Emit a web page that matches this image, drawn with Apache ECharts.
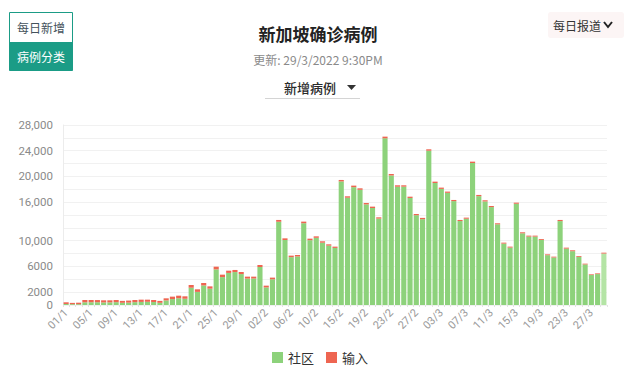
<!DOCTYPE html>
<html>
<head>
<meta charset="utf-8">
<script src="https://cdn.jsdelivr.net/npm/echarts@6/dist/echarts.min.js"></script>
<style>
html,body{margin:0;padding:0;background:#fff;}
#chart{width:640px;height:375px;}
</style>
</head>
<body>
<div id="chart"></div>
<script>
// ---- data ----
var dates = [
  '01/1','02/1','03/1','04/1','05/1','06/1','07/1','08/1','09/1','10/1',
  '11/1','12/1','13/1','14/1','15/1','16/1','17/1','18/1','19/1','20/1',
  '21/1','22/1','23/1','24/1','25/1','26/1','27/1','28/1','29/1','30/1','31/1',
  '01/2','02/2','03/2','04/2','05/2','06/2','07/2','08/2','09/2','10/2',
  '11/2','12/2','14/2','15/2','16/2','17/2','18/2','19/2','20/2','21/2',
  '22/2','23/2','24/2','25/2','26/2','27/2','28/2',
  '01/3','02/3','03/3','04/3','05/3','06/3','07/3','08/3','09/3','10/3',
  '11/3','12/3','13/3','14/3','15/3','16/3','17/3','18/3','19/3','20/3',
  '21/3','22/3','23/3','24/3','25/3','26/3','27/3','28/3','29/3'
];
var community = [
  160, 130, 130, 420, 430, 430, 400, 410, 440, 340,
  370, 440, 480, 500, 460, 340, 710, 920, 1050, 970,
  2690, 2040, 3040, 2540, 5540, 4340, 4990, 5120, 4810, 4110, 4120,
  5910, 2730, 4000, 12950, 10110, 7440, 7550, 12720, 10080, 10450,
  9690, 9230, 8880, 19220, 16690, 18330, 17920, 15650, 15090, 13440,
  25930, 20150, 18400, 18410, 16650, 13970, 13350,
  24000, 18980, 18060, 17450, 16160, 13060, 13420, 22090, 16930, 16110,
  15230, 12550, 9550, 8930, 15750, 11150, 10640, 10640, 10130, 7750,
  7390, 13050, 8770, 8370, 7490, 6310, 4660, 4810, 8000
];
var imported = [
  260, 200, 230, 360, 350, 340, 330, 320, 340, 300,
  320, 340, 350, 330, 320, 300, 330, 380, 400, 380,
  420, 400, 380, 360, 420, 380, 350, 330, 320, 300, 290,
  310, 280, 260, 280, 260, 240, 230, 250, 240, 230,
  220, 210, 200, 230, 220, 240, 230, 220, 210, 200,
  260, 230, 220, 210, 200, 190, 200,
  220, 210, 200, 190, 180, 170, 170, 210, 190, 180,
  170, 160, 150, 150, 170, 160, 150, 150, 140, 130,
  130, 180, 150, 140, 130, 120, 110, 110, 140
];
var yTickValues = [0, 2000, 6000, 10000, 16000, 20000, 24000, 28000];
var yTickLabels = ['0', '2000', '6000', '10,000', '16,000', '20,000', '24,000', '28,000'];
var seriesNames = ['社区', '输入'];

// ---- chart ----
var FONT = "'Noto Sans CJK SC','Noto Sans',sans-serif";
var NUMFONT = "Roboto,'Noto Sans',sans-serif";
var GREEN = '#8dd27b', GREEN_LIGHT = '#b4e4a5', RED = '#ee6551', TEAL = '#1b9c86';
var lastIdx = dates.length - 1;
var communityData = community.map(function (v, i) {
  return i === lastIdx ? {value: v, itemStyle: {color: GREEN_LIGHT}} : v;
});

var chart = echarts.init(document.getElementById('chart'), null, {renderer: 'svg'});
chart.setOption({
  animation: false,
  textStyle: {fontFamily: FONT},
  grid: {left: 63, right: 33, top: 125, bottom: 70, containLabel: false},
  legend: {
    bottom: 6, left: 'center', itemWidth: 11, itemHeight: 11, itemGap: 12,
    icon: 'rect',
    textStyle: {fontSize: 13, color: '#333', fontFamily: FONT},
    data: seriesNames
  },
  xAxis: {
    type: 'category', data: dates,
    axisLine: {show: false},
    axisTick: {show: true, interval: 0, length: 2, lineStyle: {color: '#e3e3e3'}},
    axisLabel: {interval: 3, rotate: 45, fontSize: 11, color: '#999', margin: 6, fontFamily: NUMFONT}
  },
  yAxis: {
    type: 'value', min: 0, max: 28000, interval: 2000,
    axisLine: {show: true, lineStyle: {color: '#ececec'}},
    axisTick: {show: false},
    splitLine: {lineStyle: {color: '#f1f1f1'}},
    axisLabel: {
      fontSize: 11.5, lineHeight: 12, color: '#8a8a8a', margin: 10, fontFamily: NUMFONT,
      formatter: function (v) {
        var k = yTickValues.indexOf(v);
        return k >= 0 ? yTickLabels[k] : '';
      }
    }
  },
  series: [
    {name: seriesNames[0], type: 'bar', stack: 'a', data: communityData, barCategoryGap: '18%',
     itemStyle: {color: GREEN}},
    {name: seriesNames[1], type: 'bar', stack: 'a', data: imported, barCategoryGap: '18%',
     itemStyle: {color: RED}}
  ],
  color: [GREEN, RED],
  graphic: [
    {type: 'rect', shape: {x: 9.5, y: 12.5, width: 63, height: 58}, style: {fill: '#fff', stroke: TEAL, lineWidth: 1}},
    {type: 'rect', shape: {x: 9.5, y: 42, width: 63, height: 28.5}, style: {fill: TEAL}},
    {type: 'text', x: 41, y: 27, style: {text: '每日新增', fill: '#44525c', font: '12px ' + FONT, textAlign: 'center', textVerticalAlign: 'middle'}},
    {type: 'text', x: 41, y: 56.5, style: {text: '病例分类', fill: '#fff', font: '12px ' + FONT, textAlign: 'center', textVerticalAlign: 'middle'}},
    {type: 'text', x: 318, y: 33, style: {text: '新加坡确诊病例', fill: '#222', font: 'bold 17px ' + FONT, textAlign: 'center', textVerticalAlign: 'middle'}},
    {type: 'text', x: 318, y: 59, style: {text: '更新: 29/3/2022 9:30PM', fill: '#8a8a8a', font: '12px ' + FONT, textAlign: 'center', textVerticalAlign: 'middle'}},
    {type: 'text', x: 284, y: 87, style: {text: '新增病例', fill: '#2a2a2a', font: '500 13px ' + FONT, textAlign: 'left', textVerticalAlign: 'middle'}},
    {type: 'polygon', shape: {points: [[347, 85], [356, 85], [351.5, 90]]}, style: {fill: '#333'}},
    {type: 'line', shape: {x1: 265, y1: 98.5, x2: 360, y2: 98.5}, style: {stroke: '#d4d4d4', lineWidth: 1}},
    {type: 'rect', shape: {x: 548, y: 12, width: 76, height: 26, r: 3}, style: {fill: '#fcf5f5'}},
    {type: 'text', x: 553, y: 25, style: {text: '每日报道', fill: '#333', font: '12px ' + FONT, textAlign: 'left', textVerticalAlign: 'middle'}},
    {type: 'polyline', shape: {points: [[604, 22], [608, 27], [612, 22]]}, style: {stroke: '#222', lineWidth: 2, fill: null}}
  ]
});
</script>
</body>
</html>
